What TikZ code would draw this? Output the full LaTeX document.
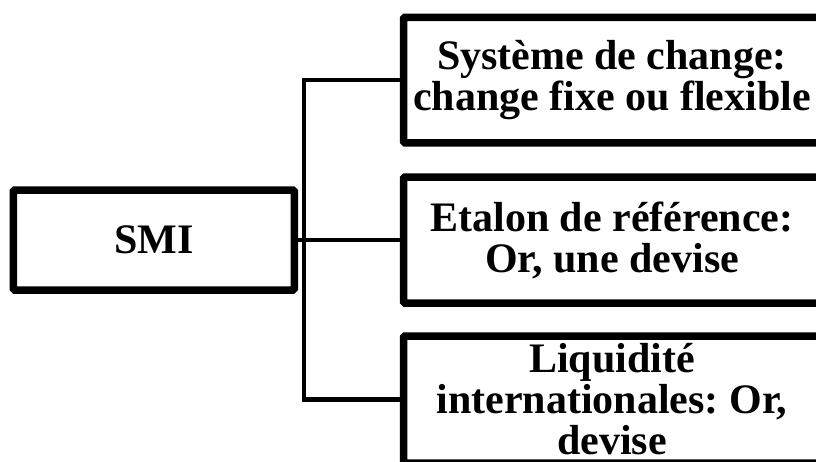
\documentclass[tikz,border=0pt]{standalone}
\usepackage{fontspec}
\setmainfont{Liberation Serif}
\usetikzlibrary{shadows}
\begin{document}
\frenchspacing
\begin{tikzpicture}[x=1pt,y=-1pt,
  box/.style={draw=black, line width=7.5pt, fill=white, rounded corners=1.5pt,
    inner sep=0pt, align=center,
    font=\bfseries\fontsize{42}{41}\selectfont,
    drop shadow={shadow xshift=1.5pt, shadow yshift=-3pt, fill=black!25, opacity=0.6}},
  link/.style={draw=black, line width=4.5pt}]
\useasboundingbox (0,0) rectangle (816,461);
\clip (0,0) rectangle (816,461);
\node[box, minimum width=281pt, minimum height=100pt] (smi) at (153.75,240) {SMI};
\node[box, minimum width=417pt, minimum height=125.5pt] (top) at (612,80)
  {Système de change:\\change fixe ou flexible};
\node[box, minimum width=417pt, minimum height=126pt] (mid) at (612,240)
  {Etalon de référence:\\Or, une devise};
\node[box, minimum width=417pt, minimum height=127pt] (bot) at (612,399.5)
  {Liquidité\\internationales: Or,\\devise};
\coordinate (j) at (304,240);
\draw[link] (smi.east) -- (mid.west);
\draw[link] (top.west) -| (j) |- (bot.west);
\end{tikzpicture}
\end{document}
